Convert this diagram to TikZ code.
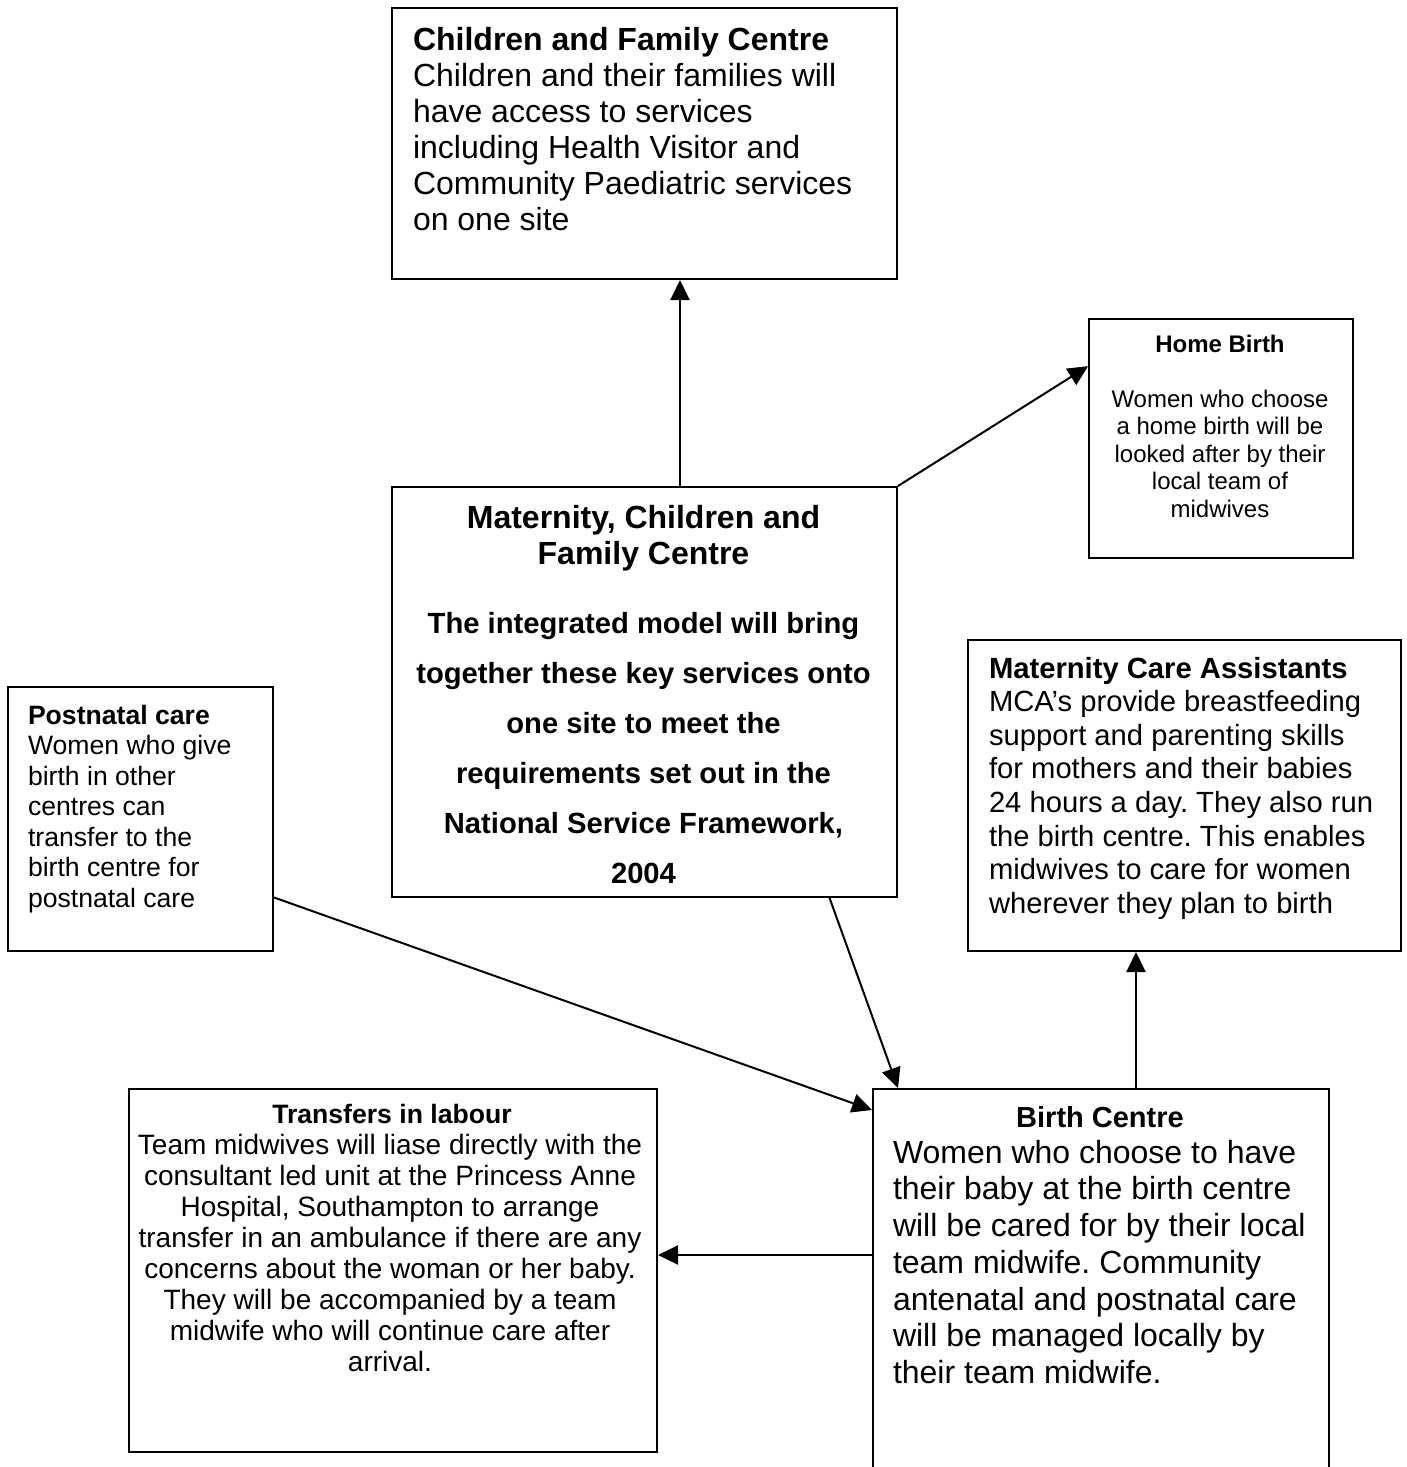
\documentclass[tikz,border=0pt]{standalone}
\usepackage{fontspec}
\setmainfont{Liberation Sans}
\usetikzlibrary{arrows.meta,calc}
\frenchspacing
\begin{document}
\begin{tikzpicture}[x=0.5pt,y=-0.5pt,
  box/.style={draw, line width=1pt, anchor=north west, inner sep=0pt},
  txt/.style={inner sep=0pt, outer sep=0pt},
  arr/.style={line width=1pt, -{Triangle[length=10pt,width=9.5pt]}}]
\useasboundingbox (0,0) rectangle (1407,1467);
\fill[white] (0,0) rectangle (1407,1467);

% boxes
\node[box, minimum width=252.5pt, minimum height=135.5pt] (cfc) at (391,7) {};
\node[box, minimum width=132pt, minimum height=119.5pt] (hb) at (1088,318) {};
\node[box, minimum width=252.5pt, minimum height=205pt] (mc) at (391,486) {};
\node[box, minimum width=216.5pt, minimum height=155.5pt] (mca) at (967,639) {};
\node[box, minimum width=132.5pt, minimum height=132pt] (pn) at (7,686) {};
\node[box, minimum width=264pt, minimum height=181.5pt] (tr) at (128,1088) {};
\node[box, minimum width=228pt, minimum height=201pt] (bc) at (872,1088) {};

% texts
\node[txt, anchor=north west, align=left, font=\fontsize{16}{18}\selectfont] (cfcT) at (413,27)
 {\textbf{Children and Family Centre}\\Children and their families will\\have access to services\\including Health Visitor and\\Community Paediatric services\\on one site};

\node[txt, anchor=north, align=center, font=\fontsize{12}{13.75}\selectfont] (hbT) at (1220,335)
 {\textbf{Home Birth}\\[13.75pt]Women who choose\\a home birth will be\\looked after by their\\local team of\\midwives};

\node[txt, anchor=north, align=center, font=\bfseries\fontsize{16}{18}\selectfont] (mcT) at (643.5,505)
 {Maternity, Children and\\Family Centre};
\node[txt, anchor=north, align=center, font=\bfseries\fontsize{14.6}{25}\selectfont] (mcB) at (643.5,612)
 {The integrated model will bring\\together these key services onto\\one site to meet the\\requirements set out in the\\National Service Framework,\\2004};

\node[txt, anchor=north west, align=left, font=\fontsize{13.3}{15.25}\selectfont] (pnT) at (28,705)
 {\textbf{Postnatal care}\\Women who give\\birth in other\\centres can\\transfer to the\\birth centre for\\postnatal care};

\node[txt, anchor=north west, align=left, font=\fontsize{14.6}{16.8}\selectfont] (mcaT) at (989,657)
 {\textbf{Maternity Care Assistants}\\MCA’s provide breastfeeding\\support and parenting skills\\for mothers and their babies\\24 hours a day. They also run\\the birth centre. This enables\\midwives to care for women\\wherever they plan to birth};

\node[txt, anchor=north, font=\bfseries\fontsize{14.5}{17}\selectfont] (bcT) at (1100,1106) {Birth Centre};
\node[txt, anchor=north west, align=left, font=\fontsize{16}{18.35}\selectfont] (bcB) at (893,1140)
 {Women who choose to have\\their baby at the birth centre\\will be cared for by their local\\team midwife. Community\\antenatal and postnatal care\\will be managed locally by\\their team midwife.};

\node[txt, anchor=north, font=\bfseries\fontsize{13.3}{15.5}\selectfont] (trT) at (392,1104) {Transfers in labour};
\node[txt, anchor=north, align=center, font=\fontsize{14}{15.5}\selectfont] (trB) at (390,1134)
 {Team midwives will liase directly with the\\consultant led unit at the Princess Anne\\Hospital, Southampton to arrange\\transfer in an ambulance if there are any\\concerns about the woman or her baby.\\They will be accompanied by a team\\midwife who will continue care after\\arrival.};

% connectors
\coordinate (upx) at (680,0);
\draw[arr] (upx |- mc.north) -- (upx |- cfc.south);
\draw[arr] (mc.north east) -- ($(hb.north west)!0.2!(hb.south west)$);
\draw[arr] ($(mc.south west)!0.865!(mc.south east)$) -- ($(bc.north west)+(26,0)$);
\draw[arr] ($(pn.north east)!0.795!(pn.south east)$) -- ($(bc.north west)+(0,22)$);
\coordinate (mcax) at ($(bc.north west)+(264,0)$);
\draw[arr] (mcax) -- (mcax |- mca.south);
\coordinate (trx) at ($(bc.north west)+(0,167)$);
\draw[arr] (trx) -- (trx -| tr.east);
\end{tikzpicture}
\end{document}
